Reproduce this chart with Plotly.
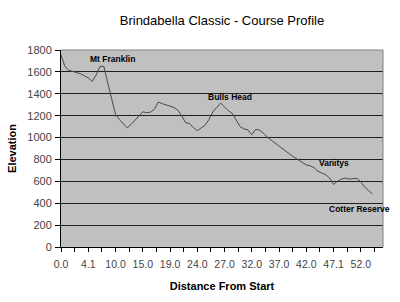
import plotly.graph_objects as go

# Elevation read at each plotted category (index along the course)
elevation = [
    1755, 1650, 1615, 1603, 1597, 1583, 1565, 1545, 1513, 1570,
    1650, 1650, 1500, 1355, 1212, 1165, 1125, 1088, 1120, 1160,
    1195, 1235, 1228, 1232, 1260, 1325, 1310, 1298, 1288, 1275,
    1250, 1200, 1135, 1128, 1092, 1062, 1088, 1112, 1165, 1235,
    1275, 1315, 1280, 1245, 1220, 1160, 1100, 1078, 1070, 1025,
    1075, 1068, 1040, 1003, 975, 950, 925, 898, 870, 842,
    818, 795, 770, 750, 742, 724, 692, 675, 660, 630,
    572, 600, 620, 630, 620, 625, 628, 595, 548, 515,
    483,
]
x_index = list(range(len(elevation)))

# Category labels shown on the axis (every 7th category)
tick_labels = ["0.0", "4.1", "10.0", "15.0", "19.0", "24.0",
               "27.0", "32.0", "37.0", "42.0", "47.1", "52.0"]
label_step = 7

# Named places on the profile: (category index, elevation, text)
places = ["Mt Franklin", "Bulls Head", "Vanitys", "Cotter Reserve"]
place_x = [13.2, 43.5, 70.0, 76.7]
place_y = [1718, 1375, 764, 344]

y_ticks = [0, 200, 400, 600, 800, 1000, 1200, 1400, 1600, 1800]

FONT = "Liberation Sans, Arial, sans-serif"

tickvals = []
ticktext = []
for i, lab in enumerate(tick_labels):
    tickvals.append(i * label_step)
    ticktext.append(lab)
    tickvals.append(i * label_step + label_step / 2)
    ticktext.append("")

fig = go.Figure()
fig.add_trace(go.Scatter(
    x=x_index, y=elevation, mode="lines",
    line=dict(color="#4a4a4a", width=1),
    hoverinfo="skip", showlegend=False,
))

annotations = []
for t, px, py in zip(places, place_x, place_y):
    annotations.append(dict(
        x=px, y=py, xref="x", yref="y", text="<b>%s</b>" % t,
        showarrow=False, font=dict(family=FONT, size=8.5, color="black"),
        xanchor="center", yanchor="middle",
    ))

fig.update_layout(
    width=400, height=302,
    margin=dict(l=58, r=17, t=50, b=53),
    paper_bgcolor="white",
    plot_bgcolor="#c0c0c0",
    showlegend=False,
    title=dict(
        text="Brindabella Classic - Course Profile",
        x=0.5, xref="paper", xanchor="center",
        y=1 - 20 / 302, yref="container", yanchor="middle",
        font=dict(family=FONT, size=13, color="black"),
    ),
    font=dict(family=FONT, color="#333333"),
    annotations=annotations,
)

fig.update_xaxes(
    range=[0, 82.7],
    tickmode="array", tickvals=tickvals, ticktext=ticktext,
    ticks="outside", ticklen=4, tickcolor="black", tickwidth=1,
    tickfont=dict(family=FONT, size=10.5, color="#444444"),
    ticklabelstandoff=3,
    showline=True, linecolor="black", linewidth=1,
    showgrid=False, zeroline=False, mirror=False,
    title=dict(text="<b>Distance From Start</b>",
               font=dict(family=FONT, size=11, color="black"), standoff=13),
    fixedrange=True,
)
fig.update_yaxes(
    range=[0, 1800],
    tickmode="array", tickvals=y_ticks,
    ticks="outside", ticklen=5, tickcolor="black", tickwidth=1,
    tickfont=dict(family=FONT, size=11, color="#444444"),
    ticklabelstandoff=1,
    showline=True, linecolor="black", linewidth=1,
    showgrid=True, gridcolor="#202020", gridwidth=1,
    zeroline=False,
    title=dict(text="<b>Elevation</b>",
               font=dict(family=FONT, size=11, color="black"), standoff=8),
    fixedrange=True,
)

# plot-area border (top/right) in grey
fig.add_shape(type="line", xref="paper", yref="paper", x0=0, x1=1, y0=1, y1=1,
              line=dict(color="#808080", width=1))
fig.add_shape(type="line", xref="paper", yref="paper", x0=1, x1=1, y0=0, y1=1,
              line=dict(color="#808080", width=1))

fig.write_html("out.html", config={"displayModeBar": False})
